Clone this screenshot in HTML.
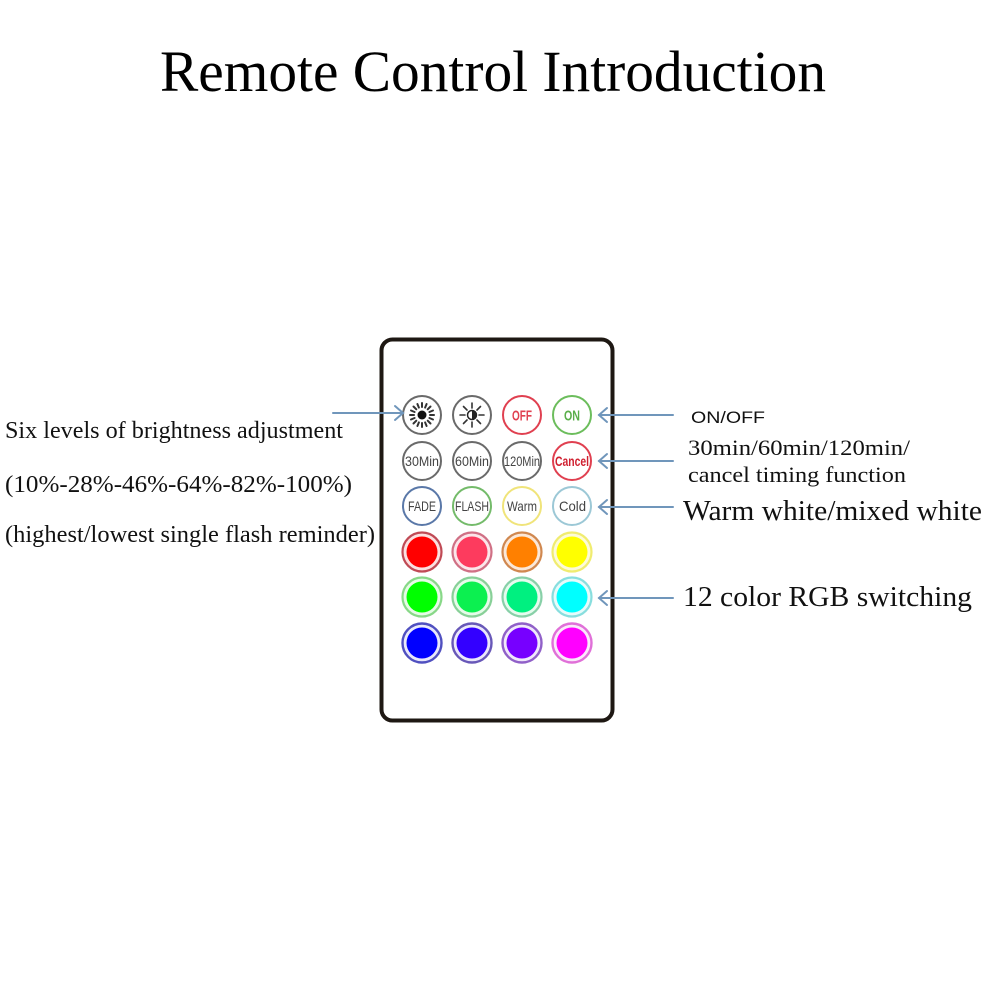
<!DOCTYPE html>
<html>
<head>
<meta charset="utf-8">
<style>
html,body{margin:0;padding:0;background:#fff;}
svg{display:block;}
</style>
</head>
<body>
<svg width="1000" height="1000" viewBox="0 0 1000 1000" xmlns="http://www.w3.org/2000/svg">
<rect width="1000" height="1000" fill="#fff"/>
<!-- Title -->
<text x="160" y="91" font-family="Liberation Serif, serif" font-size="58" fill="#000" textLength="666" lengthAdjust="spacingAndGlyphs">Remote Control Introduction</text>

<!-- Left texts -->
<g font-family="Liberation Serif, serif" fill="#111" font-size="24">
<text x="5" y="438" textLength="338" lengthAdjust="spacingAndGlyphs">Six levels of brightness adjustment</text>
<text x="5" y="492" textLength="347" lengthAdjust="spacingAndGlyphs">(10%-28%-46%-64%-82%-100%)</text>
<text x="5" y="542" textLength="370" lengthAdjust="spacingAndGlyphs">(highest/lowest single flash reminder)</text>
</g>

<!-- Right texts -->
<text x="691" y="423" font-family="Liberation Sans, sans-serif" font-size="17" fill="#111" textLength="74" lengthAdjust="spacingAndGlyphs">ON/OFF</text>
<g font-family="Liberation Serif, serif" fill="#111">
<text x="688" y="455" font-size="22" textLength="222" lengthAdjust="spacingAndGlyphs">30min/60min/120min/</text>
<text x="688" y="482" font-size="22" textLength="218" lengthAdjust="spacingAndGlyphs">cancel timing function</text>
<text x="683" y="520" font-size="28.5" textLength="299" lengthAdjust="spacingAndGlyphs">Warm white/mixed white</text>
<text x="683" y="606" font-size="28.5" textLength="289" lengthAdjust="spacingAndGlyphs">12 color RGB switching</text>
</g>

<!-- Remote body -->
<rect x="381.5" y="339.5" width="231" height="381" rx="11" ry="11" fill="#fff" stroke="#1e1813" stroke-width="4"/>

<!-- Row 1 -->
<g fill="#fff" stroke-width="2">
<circle cx="422" cy="415" r="19" stroke="#6a6a6a"/>
<circle cx="472" cy="415" r="19" stroke="#6a6a6a"/>
<circle cx="522" cy="415" r="19" stroke="#e04050"/>
<circle cx="572" cy="415" r="19" stroke="#6cbd5c"/>
</g>
<!-- sun icon 1 -->
<g stroke="#333" stroke-width="2" stroke-linecap="round">
<line x1="422" y1="407" x2="422" y2="403"/>
<line x1="422" y1="423" x2="422" y2="427"/>
<line x1="414" y1="415" x2="410" y2="415"/>
<line x1="430" y1="415" x2="434" y2="415"/>
<line x1="416.3" y1="409.3" x2="413.5" y2="406.5"/>
<line x1="427.7" y1="420.7" x2="430.5" y2="423.5"/>
<line x1="427.7" y1="409.3" x2="430.5" y2="406.5"/>
<line x1="416.3" y1="420.7" x2="413.5" y2="423.5"/>
<line x1="418.9" y1="407.6" x2="417.4" y2="404"/>
<line x1="425.1" y1="422.4" x2="426.6" y2="426"/>
<line x1="425.1" y1="407.6" x2="426.6" y2="404"/>
<line x1="418.9" y1="422.4" x2="417.4" y2="426"/>
<line x1="414.6" y1="412" x2="411" y2="410.5"/>
<line x1="429.4" y1="418" x2="433" y2="419.5"/>
<line x1="414.6" y1="418" x2="411" y2="419.5"/>
<line x1="429.4" y1="412" x2="433" y2="410.5"/>
</g>
<circle cx="422" cy="415" r="4.5" fill="#111"/>
<!-- sun icon 2 -->
<g stroke="#333" stroke-width="1.6" stroke-linecap="round">
<line x1="472" y1="408" x2="472" y2="403"/>
<line x1="472" y1="422" x2="472" y2="427"/>
<line x1="465" y1="415" x2="460" y2="415"/>
<line x1="479" y1="415" x2="484" y2="415"/>
<line x1="467" y1="410" x2="463.5" y2="406.5"/>
<line x1="477" y1="420" x2="480.5" y2="423.5"/>
<line x1="477" y1="410" x2="480.5" y2="406.5"/>
<line x1="467" y1="420" x2="463.5" y2="423.5"/>
</g>
<circle cx="472" cy="415" r="4.5" fill="#fff" stroke="#222" stroke-width="1.5"/>
<path d="M472 410.5 A4.5 4.5 0 0 1 472 419.5 Z" fill="#222"/>
<g font-family="Liberation Sans, sans-serif" font-weight="bold" font-size="15">
<text x="512" y="420.5" fill="#e04050" textLength="20" lengthAdjust="spacingAndGlyphs">OFF</text>
<text x="564" y="420.5" fill="#5aae4a" textLength="16" lengthAdjust="spacingAndGlyphs">ON</text>
</g>

<!-- Row 2 -->
<g fill="#fff" stroke-width="2">
<circle cx="422" cy="461" r="19" stroke="#6a6a6a"/>
<circle cx="472" cy="461" r="19" stroke="#6a6a6a"/>
<circle cx="522" cy="461" r="19" stroke="#6a6a6a"/>
<circle cx="572" cy="461" r="19" stroke="#e04050"/>
</g>
<g font-family="Liberation Sans, sans-serif" font-size="14">
<text x="405" y="466" fill="#444" textLength="34" lengthAdjust="spacingAndGlyphs">30Min</text>
<text x="455" y="466" fill="#444" textLength="34" lengthAdjust="spacingAndGlyphs">60Min</text>
<text x="504" y="466" fill="#444" textLength="36" lengthAdjust="spacingAndGlyphs">120Min</text>
<text x="555" y="466" fill="#d02030" font-weight="bold" textLength="34" lengthAdjust="spacingAndGlyphs">Cancel</text>
</g>

<!-- Row 3 -->
<g fill="#fff" stroke-width="2">
<circle cx="422" cy="506" r="19" stroke="#5a78a8"/>
<circle cx="472" cy="506" r="19" stroke="#74bb6a"/>
<circle cx="522" cy="506" r="19" stroke="#f0e47a"/>
<circle cx="572" cy="506" r="19" stroke="#9cc8d6"/>
</g>
<g font-family="Liberation Sans, sans-serif" font-size="14" fill="#444">
<text x="408" y="511" textLength="28" lengthAdjust="spacingAndGlyphs">FADE</text>
<text x="455" y="511" textLength="34" lengthAdjust="spacingAndGlyphs">FLASH</text>
<text x="507" y="511" textLength="30" lengthAdjust="spacingAndGlyphs">Warm</text>
<text x="559" y="511" textLength="27" lengthAdjust="spacingAndGlyphs">Cold</text>
</g>

<!-- Color rows -->
<g>
<circle cx="422" cy="552" r="19.5" fill="#fbe0e0" stroke="#c04a55" stroke-width="2.2"/>
<circle cx="422" cy="552" r="15.5" fill="#ff0000"/>
<circle cx="472" cy="552" r="19.5" fill="#fbe6ea" stroke="#d07085" stroke-width="2.2"/>
<circle cx="472" cy="552" r="15.5" fill="#fd3b5e"/>
<circle cx="522" cy="552" r="19.5" fill="#fbe8d8" stroke="#d08850" stroke-width="2.2"/>
<circle cx="522" cy="552" r="15.5" fill="#ff8000"/>
<circle cx="572" cy="552" r="19.5" fill="#fdfbd8" stroke="#f0ec70" stroke-width="2.2"/>
<circle cx="572" cy="552" r="15.5" fill="#ffff00"/>
<circle cx="422" cy="597" r="19.5" fill="#e6fbe6" stroke="#88d888" stroke-width="2.2"/>
<circle cx="422" cy="597" r="15.5" fill="#00ff00"/>
<circle cx="472" cy="597" r="19.5" fill="#e6fbe9" stroke="#88d098" stroke-width="2.2"/>
<circle cx="472" cy="597" r="15.5" fill="#0cf050"/>
<circle cx="522" cy="597" r="19.5" fill="#e6fbee" stroke="#88d0a8" stroke-width="2.2"/>
<circle cx="522" cy="597" r="15.5" fill="#00f080"/>
<circle cx="572" cy="597" r="19.5" fill="#e6fbfb" stroke="#88dede" stroke-width="2.2"/>
<circle cx="572" cy="597" r="15.5" fill="#00ffff"/>
<circle cx="422" cy="643" r="19.5" fill="#e8e8fb" stroke="#5050c0" stroke-width="2.4"/>
<circle cx="422" cy="643" r="15.5" fill="#0000ff"/>
<circle cx="472" cy="643" r="19.5" fill="#ebe8fb" stroke="#6858b8" stroke-width="2.4"/>
<circle cx="472" cy="643" r="15.5" fill="#3300ff"/>
<circle cx="522" cy="643" r="19.5" fill="#f0e8fb" stroke="#9060c8" stroke-width="2.4"/>
<circle cx="522" cy="643" r="15.5" fill="#7700ff"/>
<circle cx="572" cy="643" r="19.5" fill="#fbe8fb" stroke="#e070d8" stroke-width="2.4"/>
<circle cx="572" cy="643" r="15.5" fill="#ff00ff"/>
</g>

<!-- Arrows (drawn on top) -->
<g stroke="#7096bb" stroke-width="2" fill="none" stroke-linecap="round">
<line x1="333" y1="413" x2="403" y2="413"/>
<polyline points="395,406 403,413 395,420"/>
<line x1="673" y1="415" x2="599" y2="415"/>
<polyline points="607,408 599,415 607,422"/>
<line x1="673" y1="461" x2="599" y2="461"/>
<polyline points="607,454 599,461 607,468"/>
<line x1="673" y1="507" x2="599" y2="507"/>
<polyline points="607,500 599,507 607,514"/>
<line x1="673" y1="598" x2="599" y2="598"/>
<polyline points="607,591 599,598 607,605"/>
</g>
</svg>
</body>
</html>
